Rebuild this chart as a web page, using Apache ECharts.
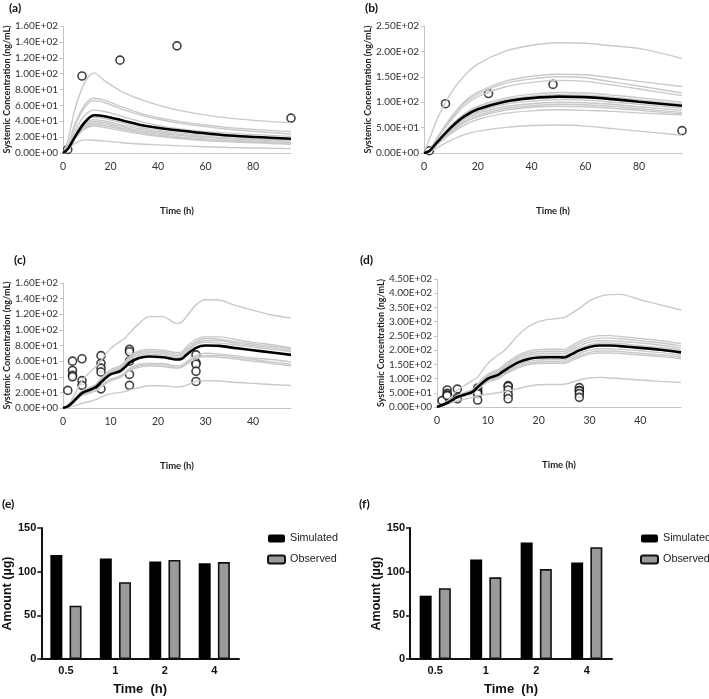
<!DOCTYPE html>
<html lang="en">
<head>
    <meta charset="UTF-8">
    <title>PK simulations</title>
    <script src="https://cdn.jsdelivr.net/npm/echarts@6/dist/echarts.min.js"></script>
    <style>
        body { margin: 0; background: #fff; }
        #main { width: 709px; height: 699px; }
    </style>
</head>
<body>
<div id="main"></div>
<script>
    // ---- panel (a): single dose, sim vs observed ----
    var aTime = [0, 2, 5, 9, 13, 18, 25, 35, 50, 70, 96];
    var aMean = [0, 5, 20, 38, 47.5, 46, 41, 34, 28, 22, 18];
    var aTrials = [
        [0, 15, 55, 88, 101, 90, 77, 65, 53, 44, 38],
        [0, 8, 36, 60, 69, 66, 58, 48, 39, 32, 27],
        [0, 8, 34, 57, 66, 63, 55, 46, 37, 30, 24],
        [0, 6, 28, 47, 54, 52, 46, 38, 30, 25, 21],
        [0, 5, 24, 40, 45, 43, 38, 31, 25, 21, 18],
        [0, 5, 22, 37, 42, 40, 35, 29, 23, 19, 16],
        [0, 5, 21, 35, 40, 38, 33, 27, 22, 18, 15],
        [0, 4, 20, 33, 38, 36, 31, 26, 20, 16, 13],
        [0, 4, 19, 31, 36, 34, 30, 24, 19, 15, 12],
        [0, 4, 18, 30, 34, 32, 28, 23, 18, 14, 11],
        [0, 4, 12, 16.5, 16, 15, 13, 11, 9, 7, 5.5]
    ];
    var abObsTime = [2, 8, 24, 48, 96];
    var abObsConc = [4.5, 97, 117, 135, 44];

    // ---- panel (b) ----
    var bTime = [0, 2, 5, 10, 15, 20, 30, 40, 50, 60, 70, 80, 96];
    var bMean = [0, 4, 22, 50, 72, 86, 101, 108, 111, 110, 106, 101, 93];
    var bTrials = [
        [0, 27, 68, 118, 152, 175, 200, 212, 217, 216, 211, 206, 186],
        [0, 6, 31, 70, 101, 120, 141, 151, 155, 154, 148, 141, 131],
        [0, 5, 30, 68, 98, 116, 137, 146, 150, 148, 140, 132, 118],
        [0, 5, 29, 64, 93, 111, 130, 139, 143, 141, 134, 126, 113],
        [0, 4, 24, 54, 77, 92, 108, 116, 119, 118, 114, 109, 100],
        [0, 4, 23, 52, 75, 89, 105, 112, 115, 114, 110, 105, 96],
        [0, 4, 21, 47, 68, 81, 96, 102, 105, 104, 100, 96, 88],
        [0, 4, 20, 45, 65, 78, 91, 97, 100, 99, 96, 91, 84],
        [0, 3, 19, 43, 62, 74, 87, 93, 96, 95, 92, 87, 80],
        [0, 3, 18, 41, 60, 71, 84, 90, 92, 91, 88, 84, 77],
        [0, 3, 17, 38, 55, 66, 78, 83, 85, 84, 82, 79, 75],
        [0, 2, 11, 25, 36, 43, 50, 54, 55, 53, 48, 43, 35]
    ];

    // ---- panel (c): multiple dose ----
    var cTime = [0, 1, 2, 4, 6, 7, 8, 10, 12, 13, 14, 16, 18, 21, 24, 25, 26, 28, 30, 33, 36, 40, 44, 48];
    var cMean = [0, 2, 7, 19, 24, 27, 33, 43, 47, 52, 58, 64, 66, 65, 62, 63, 68, 77, 80, 79.5, 77, 74, 71, 68];
    var cTrials = [
        [0, 4, 12, 35, 48, 53, 61, 76, 85, 89, 96, 108, 117, 117, 108, 110, 117, 132, 138.5, 138, 132, 125, 119, 115],
        [0, 2, 8, 22, 27, 31, 38, 49, 54, 59, 66, 73, 75, 74, 71, 72, 78, 88, 91, 91, 88, 84, 81, 77],
        [0, 2, 8, 21, 27, 30, 37, 48, 52, 58, 64, 71, 73, 72, 69, 70, 75, 85, 89, 88, 85, 82, 79, 76],
        [0, 2, 8, 21, 26, 29, 36, 46, 51, 56, 63, 69, 71, 70, 67, 68, 73, 83, 86, 86, 83, 80, 77, 74],
        [0, 2, 7, 20, 25, 28, 35, 45, 49, 55, 61, 67, 69, 68, 65, 66, 71, 81, 84, 83, 81, 78, 75, 72],
        [0, 2, 6, 17, 21, 23, 29, 37, 41, 45, 50, 56, 57, 57, 54, 55, 59, 67, 70, 69, 67, 64, 62, 59],
        [0, 2, 6, 16, 20, 23, 28, 36, 39, 44, 49, 54, 55, 55, 52, 53, 57, 65, 67, 67, 65, 62, 59, 56],
        [0, 2, 6, 16, 20, 22, 27, 35, 39, 43, 48, 52, 54, 53, 51, 52, 56, 63, 66, 65, 63, 60, 57, 54],
        [0, 1, 2, 6, 9, 11, 14, 18, 20, 21, 23, 26, 28.5, 28.5, 27, 27.5, 29, 34, 35, 34.5, 33, 31.5, 30, 29]
    ];
    var cdObsTime = [1, 2, 2, 2, 2, 4, 4, 4, 8, 8, 8, 8, 8, 14, 14, 14, 14, 14, 28, 28, 28, 28, 28];
    var cdObsConc = [22.5, 60, 48, 42, 40, 63, 35, 29, 67, 57, 51, 46, 24.5, 75, 72, 60, 43, 29, 68, 58, 56, 47, 34];

    // ---- panel (d) ----
    var dTime = [0, 2, 4, 6, 7, 8, 10, 12, 13, 14, 16, 18, 20, 22, 24, 25, 26, 28, 30, 32, 34, 36, 40, 44, 48];
    var dMean = [0, 14, 35, 47, 53, 70, 100, 113, 125, 137, 157, 169, 174, 175, 175, 174, 181, 199, 211, 216, 216, 214, 208, 201, 192];
    var dTrials = [
        [0, 20, 59, 82, 94, 106, 153, 183, 194, 212, 253, 283, 300, 308, 312, 314, 324, 347, 373, 389, 395, 396, 377, 359, 341],
        [0, 16, 41, 55, 61, 81, 116, 131, 145, 159, 182, 196, 202, 203, 203, 202, 210, 231, 245, 251, 251, 248, 241, 233, 223],
        [0, 16, 39, 53, 59, 78, 112, 127, 140, 153, 176, 189, 195, 196, 196, 195, 203, 223, 236, 242, 242, 240, 233, 225, 215],
        [0, 15, 38, 51, 57, 76, 108, 122, 135, 148, 170, 183, 188, 189, 189, 188, 195, 215, 228, 233, 233, 231, 225, 217, 207],
        [0, 15, 36, 49, 55, 73, 104, 118, 130, 142, 163, 176, 181, 182, 182, 181, 188, 207, 219, 225, 225, 223, 216, 209, 200],
        [0, 13, 33, 45, 50, 67, 95, 107, 119, 130, 149, 161, 165, 166, 166, 165, 172, 189, 200, 205, 205, 203, 198, 191, 182],
        [0, 13, 32, 43, 48, 64, 91, 103, 114, 125, 143, 154, 158, 159, 159, 158, 165, 181, 192, 197, 197, 195, 189, 183, 175],
        [0, 12, 31, 41, 47, 62, 88, 99, 110, 121, 138, 149, 153, 154, 154, 153, 159, 175, 186, 190, 190, 188, 183, 177, 169],
        [0, 10, 22, 30, 34, 39, 45, 50, 53, 56, 65, 73, 78, 79, 79, 80, 84, 95, 102, 104, 102, 100, 95, 90, 86]
    ];

    // ---- panels (e), (f): amounts ----
    var amtTimes = ['0.5', '1', '2', '4'];
    var eSimulated = [119, 115, 111.5, 109.5];
    var eObserved = [61, 88, 113.5, 111];
    var fSimulated = [72.5, 114, 133.5, 110.5];
    var fObserved = [81, 93.5, 103, 128];

    var chart = echarts.init(document.getElementById('main'));
    var topFont = 'Lato';
    var botFont = 'Liberation Sans';

    function sci(v) {
        return v.toExponential(2).toUpperCase().replace(/E([+-])(\d)$/, function (m, s, d) {
            return 'E' + s + '0' + d;
        });
    }
    function pairs(xs, ys) {
        return xs.map(function (x, i) { return [x, ys[i]]; });
    }

    var grids = [
        {left: 63, top: 26, width: 228, height: 127},
        {left: 424, top: 26, width: 258, height: 127},
        {left: 63, top: 283, width: 228, height: 125},
        {left: 437, top: 279, width: 244, height: 128},
        {left: 36, top: 528, width: 203, height: 131},
        {left: 410, top: 528, width: 202, height: 131}
    ];

    var xAxes = [], yAxes = [], series = [];
    var linePanels = [
        {time: aTime, mean: aMean, trials: aTrials, ox: abObsTime, oy: abObsConc, xmax: 96, xint: 20, ymax: 160, yint: 20, gap: 49},
        {time: bTime, mean: bMean, trials: bTrials, ox: abObsTime, oy: abObsConc, xmax: 96, xint: 20, ymax: 250, yint: 50, gap: 50},
        {time: cTime, mean: cMean, trials: cTrials, ox: cdObsTime, oy: cdObsConc, xmax: 48, xint: 10, ymax: 160, yint: 20, gap: 49},
        {time: dTime, mean: dMean, trials: dTrials, ox: cdObsTime, oy: cdObsConc, xmax: 48, xint: 10, ymax: 450, yint: 50, gap: 48}
    ];

    linePanels.forEach(function (p, i) {
        xAxes.push({
            gridIndex: i, type: 'value', min: 0, max: p.xmax, interval: p.xint,
            name: 'Time (h)', nameLocation: 'middle', nameGap: 53,
            nameTextStyle: {fontFamily: topFont, fontWeight: 'bold', fontSize: 9.5, color: '#222'},
            axisLine: {lineStyle: {color: '#c4c4c4', width: 1}},
            axisTick: {show: false},
            axisLabel: {showMaxLabel: false, fontFamily: topFont, fontSize: 10.5, color: '#333', margin: 8},
            splitLine: {show: false}
        });
        yAxes.push({
            gridIndex: i, type: 'value', min: 0, max: p.ymax, interval: p.yint,
            name: 'Systemic Concentration (ng/mL)', nameLocation: 'middle', nameGap: p.gap,
            nameTextStyle: {fontFamily: topFont, fontWeight: 'bold', fontSize: 9, color: '#222'},
            axisLine: {show: true, lineStyle: {color: '#c4c4c4', width: 1}},
            axisTick: {show: true, length: 3, lineStyle: {color: '#c4c4c4'}},
            axisLabel: {formatter: sci, fontFamily: topFont, fontSize: 10, color: '#333', margin: 5},
            splitLine: {show: false}
        });
        p.trials.forEach(function (t) {
            series.push({
                type: 'line', xAxisIndex: i, yAxisIndex: i, data: pairs(p.time, t),
                smooth: 0.3, showSymbol: false, silent: true,
                lineStyle: {color: '#c9c9c9', width: 1.4}
            });
        });
        series.push({
            type: 'line', xAxisIndex: i, yAxisIndex: i, data: pairs(p.time, p.mean),
            smooth: 0.3, showSymbol: false, silent: true,
            lineStyle: {color: '#000', width: 2.6}
        });
        series.push({
            type: 'scatter', xAxisIndex: i, yAxisIndex: i, data: pairs(p.ox, p.oy),
            symbol: 'circle', symbolSize: 8,
            itemStyle: {color: '#fff', borderColor: '#111', borderWidth: 1.6}
        });
    });

    [[eSimulated, eObserved], [fSimulated, fObserved]].forEach(function (d, k) {
        var gi = 4 + k;
        xAxes.push({
            gridIndex: gi, type: 'category', data: amtTimes,
            name: 'Time  (h)', nameLocation: 'middle', nameGap: 24,
            nameTextStyle: {fontFamily: botFont, fontWeight: 'bold', fontSize: 13, color: '#111'},
            axisLine: {lineStyle: {color: '#111', width: 2}},
            axisTick: {alignWithLabel: true, length: 4, lineStyle: {color: '#111', width: 1.5}},
            axisLabel: {fontFamily: botFont, fontWeight: 'bold', fontSize: 11, color: '#111', margin: 6}
        });
        yAxes.push({
            gridIndex: gi, type: 'value', min: 0, max: 150, interval: 50,
            name: 'Amount (µg)', nameLocation: 'middle', nameGap: 25,
            nameTextStyle: {fontFamily: botFont, fontWeight: 'bold', fontSize: 12.5, color: '#111'},
            axisLine: {show: true, lineStyle: {color: '#111', width: 2}},
            axisTick: {show: true, length: 4, lineStyle: {color: '#111', width: 1.5}},
            axisLabel: {fontFamily: botFont, fontWeight: 'bold', fontSize: 11, color: '#111', margin: 5},
            splitLine: {show: false}
        });
        series.push({
            type: 'bar', name: 'Simulated', xAxisIndex: gi, yAxisIndex: gi, data: d[0],
            barWidth: 12, barGap: '60%', itemStyle: {color: '#000'}
        });
        series.push({
            type: 'bar', name: 'Observed', xAxisIndex: gi, yAxisIndex: gi, data: d[1],
            barWidth: 12, barGap: '60%',
            itemStyle: {color: '#9a9a9a', borderColor: '#111', borderWidth: 1.6}
        });
    });

    var legendBase = {
        orient: 'vertical', padding: 0, itemWidth: 17, itemHeight: 8, itemGap: 10,
        data: ['Simulated', 'Observed'], selectedMode: false,
        textStyle: {fontFamily: botFont, fontSize: 10.8, color: '#222'}
    };

    var labels = [['(a)', 9, 2], ['(b)', 365, 2], ['(c)', 14, 254], ['(d)', 360, 254], ['(e)', 2, 498], ['(f)', 359, 498]];

    chart.setOption({
        animation: false,
        grid: grids,
        xAxis: xAxes,
        yAxis: yAxes,
        series: series,
        legend: [
            Object.assign({left: 267, top: 533}, legendBase),
            Object.assign({left: 640, top: 533}, legendBase)
        ],
        graphic: labels.map(function (l) {
            return {
                type: 'text', left: l[1], top: l[2],
                style: {text: l[0], fontFamily: topFont, fontWeight: 'bold', fontSize: 12, fill: '#111'}
            };
        })
    });
</script>
</body>
</html>
